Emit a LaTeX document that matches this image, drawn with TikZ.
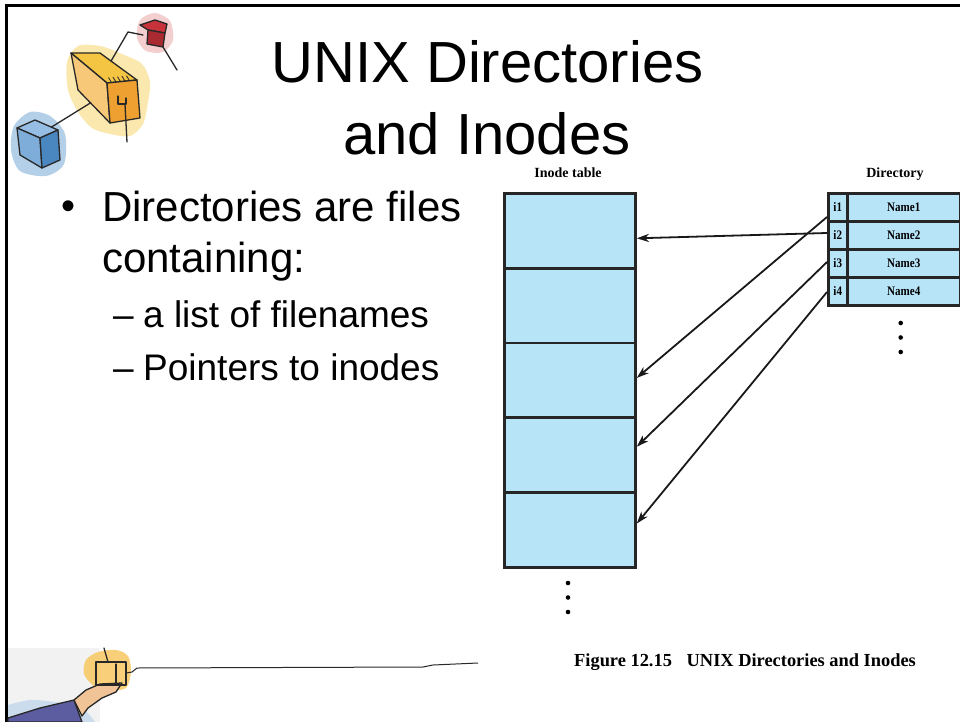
\documentclass[tikz,border=0pt]{standalone}
\usepackage{fontspec}
\setmainfont{Liberation Sans}
\newfontfamily\figfont{Liberation Serif}
\newfontfamily\figfontnarrow[FakeStretch=0.85]{Liberation Serif}
\usetikzlibrary{arrows.meta,calc}

\definecolor{cellblue}{RGB}{184,228,248}
\definecolor{washyellow}{RGB}{246,214,110}
\definecolor{washred}{RGB}{232,160,160}
\definecolor{washblue}{RGB}{120,170,215}
\definecolor{cubeyellow}{RGB}{244,197,66}
\definecolor{cubeside}{RGB}{246,200,120}
\definecolor{cubeorange}{RGB}{238,160,48}
\definecolor{cubered}{RGB}{200,50,58}
\definecolor{cubeblue}{RGB}{74,134,192}
\definecolor{cubeltblue}{RGB}{150,190,228}
\definecolor{sleeve}{RGB}{92,92,160}
\definecolor{skin}{RGB}{240,196,150}
\definecolor{sketch}{RGB}{40,40,40}

\tikzset{
  slidetext/.style={anchor=base west, inner sep=0pt},
  titletext/.style={anchor=base, inner sep=0pt, font=\fontsize{58}{70}\selectfont},
  inodecell/.style={draw=black!85, line width=2.8pt, fill=cellblue, minimum width=131pt,
    minimum height=74.8pt, inner sep=0pt, anchor=north west},
  idcell/.style={draw=black!85, line width=2.5pt, fill=cellblue, minimum width=19pt,
    minimum height=28pt, inner sep=0pt, anchor=north west,
    font=\figfontnarrow\bfseries\fontsize{13}{15}\selectfont},
  namecell/.style={draw=black!85, line width=2.5pt, fill=cellblue, minimum width=113pt,
    minimum height=28pt, inner sep=0pt, anchor=north west,
    font=\figfontnarrow\bfseries\fontsize{13}{15}\selectfont},
  figlabel/.style={anchor=base, inner sep=0pt,
    font=\figfont\bfseries\fontsize{14}{16}\selectfont},
  ptr/.style={draw=black!90, line width=1.8pt, -{Stealth[length=12pt,width=8pt,inset=3.5pt]}},
  dot/.style={fill=black},
  pen/.style={draw=sketch, line width=1.3pt, line join=round, line cap=round}
}

\begin{document}
\begin{tikzpicture}[x=1pt,y=-1pt]
\useasboundingbox (0,0) rectangle (960,722);
\fill[white] (0,0) rectangle (960,722);

% slide frame
\draw[line width=3pt] (6.5,722) -- (6.5,5.5) -- (960,5.5);

% ---------- clip art, top left: three linked cubes ----------
\fill[washyellow, opacity=0.55] plot[smooth cycle] coordinates
  {(67,62) (78,46) (100,46) (122,54) (142,64) (150,82) (148,102) (143,124)
   (130,136) (110,134) (92,128) (78,112) (68,90)};
\fill[washred, opacity=0.5] plot[smooth cycle] coordinates
  {(140,20) (155,13) (170,21) (173,40) (163,52) (146,51) (137,38)};
\fill[washblue, opacity=0.55] plot[smooth cycle] coordinates
  {(14,126) (30,112) (50,116) (65,134) (64,164) (46,176) (20,171) (11,150)};

\draw[pen] (50,128) -- (100,97);
\draw[pen] (107,68) -- (128,32) -- (143,35);
\draw[pen] (163,47) -- (177,70);

% large cube
\filldraw[pen, fill=cubeyellow] (71,53) -- (100,53) -- (137,80) -- (107,83) -- cycle;
\filldraw[pen, fill=cubeside] (71,53) -- (107,83) -- (110,123) -- (78,90) -- cycle;
\filldraw[pen, fill=cubeorange] (107,83) -- (137,80) -- (140,118) -- (110,123) -- cycle;
\draw[pen] (118,96) -- (118,104) -- (126,104) -- (126,98);
\draw[pen] (125,104) -- (127,142);
\foreach \t in {0.15,0.3,...,0.9}
  \draw[sketch, line width=0.8pt] ($(107,83)!\t!(137,80)$) -- ++(-3,-5);

% small red cube
\filldraw[pen, fill=cubered] (140,25) -- (155,20) -- (167,24) -- (165,33) -- (148,30) -- cycle;
\filldraw[pen, fill=cubered!85!black] (148,30) -- (165,33) -- (163,47) -- (147,44) -- cycle;

% blue cube
\filldraw[pen, fill=cubeltblue] (17,128) -- (35,120) -- (58,130) -- (40,138) -- cycle;
\filldraw[pen, fill=cubeltblue!70!cubeblue] (17,128) -- (40,138) -- (42,168) -- (20,155) -- cycle;
\filldraw[pen, fill=cubeblue] (40,138) -- (58,130) -- (60,160) -- (42,168) -- cycle;

% ---------- clip art, bottom left: hand holding a box ----------
\fill[gray!10] (8,648) -- (100,648) -- (100,722) -- (8,722) -- cycle;
\fill[washblue!50, opacity=0.7] plot[smooth] coordinates
  {(8,705) (30,700) (55,702) (80,706) (95,722)} -- (8,722) -- cycle;
\fill[washyellow!80!orange, opacity=0.8] plot[smooth cycle] coordinates
  {(86,660) (98,652) (116,650) (128,656) (131,672) (126,688) (110,690) (94,686) (84,674)};
\filldraw[pen, fill=sleeve] (8,718) -- (40,708) -- (74,700) -- (82,722) -- (8,722) -- cycle;
\filldraw[pen, fill=skin] (74,700) -- (86,690) -- (100,684) -- (122,683) -- (116,692)
  -- (102,698) -- (88,708) -- (82,716) -- cycle;
\draw[pen] (96,662) rectangle (126,685);
\draw[pen] (116,664) -- (116,684);
\draw[pen] (108,662) -- (104,648);
\draw[sketch, line width=1pt] (126,673) -- (132,672) -- (137,668) -- (423,667)
  -- (433,665) -- (478,663);

% ---------- title and bullets ----------
\node[titletext] (title1) at (487.5,83) {UNIX Directories};
\node[titletext] (title2) at (487,155) {and Inodes};

\node[slidetext, font=\fontsize{40}{48}\selectfont] (bul1) at (61,219) {•};
\node[slidetext, font=\fontsize{42}{50}\selectfont] (txt1) at (102,221) {Directories are files};
\node[slidetext, font=\fontsize{42}{50}\selectfont] (txt2) at (102,272) {containing:};
\node[slidetext, font=\fontsize{37}{44}\selectfont] (dash1) at (113,327) {–};
\node[slidetext, font=\fontsize{37}{44}\selectfont] (sub1) at (143,327) {a list of filenames};
\node[slidetext, font=\fontsize{37}{44}\selectfont] (dash2) at (113,380) {–};
\node[slidetext, font=\fontsize{37}{44}\selectfont] (sub2) at (143,380) {Pointers to inodes};

% ---------- inode table ----------
\node[figlabel] (itlabel) at (568,178) {Inode table};
\node[inodecell] (r1) at (503,192) {};
\node[inodecell] (r2) at (503,266.8) {};
\node[inodecell] (r3) at (503,341.6) {};
\node[inodecell] (r4) at (503,416.4) {};
\node[inodecell] (r5) at (503,491.2) {};
\fill[dot] (568,583) circle (2.3pt) (568,597.5) circle (2.3pt) (568,612) circle (2.3pt);

% ---------- directory ----------
\node[figlabel] (dirlabel) at (895,178) {Directory};
\foreach \k/\y in {1/192,2/220,3/248,4/276}{
  \node[idcell] (i\k) at (827,\y) {i\k};
  \node[namecell] (n\k) at (846,\y) {Name\k};
}
\fill[dot] (900.7,323) circle (2.3pt) (900.7,337.5) circle (2.3pt) (900.7,352) circle (2.3pt);

% ---------- pointers ----------
\draw[ptr] ([yshift=-13pt]i2.north west) -- ([yshift=-7.5pt]r1.east);
\draw[ptr] ([yshift=-25pt]i1.north west) -- ([yshift=2.5pt]r3.east);
\draw[ptr] ([yshift=-14pt]i3.north west) -- ([yshift=8.5pt]r4.east);
\draw[ptr] ([yshift=-16pt]i4.north west) -- ([yshift=6.5pt]r5.east);

% caption
\node[anchor=base west, inner sep=0pt, font=\figfont\bfseries\fontsize{18.4}{21}\selectfont]
  (caption) at (574,666) {Figure 12.15\hspace{0.8em}UNIX Directories and Inodes};
\end{tikzpicture}
\end{document}
